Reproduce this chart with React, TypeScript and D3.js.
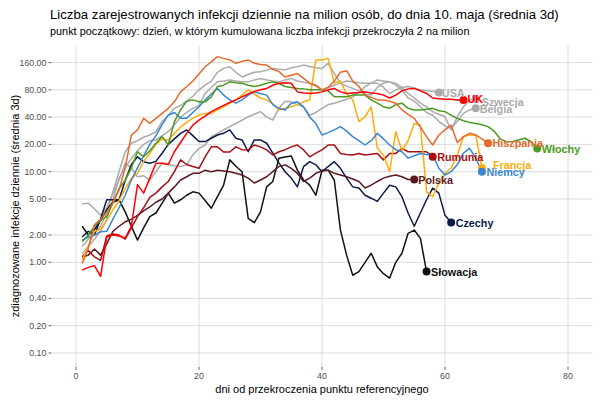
import React from 'react';
import * as d3 from 'd3';

const W = 600;
const H = 400;
const PANEL = { left: 51.4, right: 592.6, top: 45, bottom: 367 };

const xTicks = [0, 20, 40, 60, 80];
const yTicks = [0.1, 0.2, 0.4, 1, 2, 5, 10, 20, 40, 80, 160];
const yTickLabels = ['0.10', '0.20', '0.40', '1.00', '2.00', '5.00', '10.00', '20.00', '40.00', '80.00', '160.00'];

const titleText = 'Liczba zarejestrowanych infekcji dziennie na milion osób, do dnia 10. maja (średnia 3d)';
const subtitleText = 'punkt początkowy: dzień, w którym kumulowana liczba infekcji przekroczyła 2 na milion';
const xTitle = 'dni od przekroczenia punktu referencyjnego';
const yTitle = 'zdiagnozowane infekcje dziennie (średnia 3d)';

// values per day, starting at day 1
const usaValues = [1.25, 1.5, 1.8, 2.2, 3.0, 4.9, 8.5, 11, 14, 17, 20, 22, 22.4, 25, 27.6, 33, 40, 45, 50, 54, 73, 85, 98, 100, 103, 100, 98, 98, 103, 107, 103, 100, 98, 103, 107, 100, 97, 94.6, 88, 80, 85, 90, 95, 100, 98, 96, 94.6, 94.6, 94.6, 85, 73, 80, 85, 87, 84, 80, 78, 77, 75];
const belgiaValues = [1.5, 1.8, 2.1, 2.5, 3.5, 6, 10, 16.6, 20.6, 22, 24, 25.4, 27.6, 35.7, 42, 50, 54, 60, 68, 80, 90, 100, 125, 138, 144, 125, 111, 118, 125, 127, 132, 138, 135, 133, 140, 144, 150, 145, 140, 138, 157, 121, 95, 88, 83, 78, 72, 70, 85, 95, 98, 90, 80, 65, 60, 52, 45, 42, 36, 32, 30, 36, 44, 48, 50];
const szwecjaValues = [4.4, 4.5, 3.9, 3.3, 4.0, 5.8, 8.1, 12.4, 11, 8.8, 9, 8.1, 10, 12.4, 12, 11.6, 11.4, 11.9, 15.3, 18, 19.7, 24.4, 26.5, 29, 31.4, 34, 37, 40.4, 43, 46, 40, 37, 50, 60, 59, 55, 52, 42, 45, 50, 55, 57, 60, 63, 67, 75, 87, 95, 103, 100, 98, 94.6, 85, 73, 65, 57, 52, 46, 43, 40.4, 28.9, 40.4, 52, 62, 64];
const slowacjaValues = [2.5, 2.0, 2.3, 2.9, 3.8, 4.6, 4.9, 3.6, 2.5, 1.76, 2.4, 3.2, 3.5, 4.5, 5.8, 4.5, 4.9, 5.5, 6.0, 5.8, 4.8, 3.95, 5.3, 7.1, 13.5, 11.5, 10, 3.06, 2.74, 3.6, 6.8, 7.8, 14.1, 14.5, 14.9, 10.4, 8.1, 7.1, 5.5, 10.4, 10.4, 8.1, 2.27, 1.2, 0.72, 0.79, 1.0, 1.26, 0.89, 0.75, 0.67, 1.0, 1.26, 2.09, 2.27, 1.84, 0.79];
const czechyValues = [1.9, 2.2, 2.0, 3.0, 4.9, 4.9, 4.9, 8.0, 12, 14.6, 12.9, 12.4, 13, 16, 20, 23, 26.5, 28.9, 25, 21.5, 21.5, 23.4, 25.4, 26.5, 28.9, 23.4, 22.4, 16.6, 22.4, 22.4, 20.6, 16, 12.5, 10, 8.5, 6.8, 11.4, 12.9, 11.9, 10, 11.4, 12.9, 10.9, 8.5, 6.8, 6.6, 5.5, 5.1, 4.7, 5.8, 7.1, 6.8, 5.3, 3.5, 2.5, 3.5, 4.9, 6.6, 5.8, 3.3, 2.75];
const polskaValues = [1.15, 1.2, 1.4, 1.2, 1.6, 2.2, 2.5, 2.8, 3.0, 3.3, 3.7, 4.1, 4.6, 5.0, 5.8, 6.8, 8.1, 8.8, 9.6, 9.6, 10.4, 10, 10.4, 10.2, 10, 9.6, 9.2, 8.5, 7.5, 8.1, 8.8, 10, 11.4, 11.9, 10.9, 9.6, 7.8, 8.5, 9.6, 10.2, 10.4, 9.6, 9.2, 8.8, 8.3, 7.8, 6.6, 7.1, 7.8, 8.5, 8.9, 9.2, 8.8, 8.2, 8.2];
const rumuniaValues = [1.15, 1.35, 1.15, 1.05, 1.95, 2.05, 2.0, 1.8, 2.4, 3.2, 4.0, 5.2, 5.8, 6.8, 7.8, 10, 13.5, 12, 11.4, 10.9, 14.6, 18.8, 18.8, 16.5, 16.5, 18.8, 17.5, 17.4, 19.7, 18.8, 17.4, 15.3, 16.6, 17.5, 18.8, 19.7, 17.4, 14.6, 16, 17.4, 19.7, 19.7, 15.9, 15.5, 15.3, 15.9, 15.3, 15.6, 15.9, 13.5, 15.9, 15.9, 18.1, 16.6, 16.6, 16.6, 16.6, 14.6];
const niemcyValues = [1.76, 1.9, 2.0, 2.18, 2.2, 3.0, 4.0, 5.5, 8.1, 11, 15, 20, 25, 33, 42, 45, 39, 38.8, 45, 52, 62, 72, 83, 70, 62, 57, 62, 70, 76, 73, 70, 55, 50, 48, 57, 59, 52, 40, 34, 25.4, 27, 28.9, 31.4, 28, 24.4, 22, 19.7, 22, 26.5, 23, 19.7, 17.5, 16.6, 14.1, 15, 15.9, 15.5, 15.3, 10.9, 9.2, 10, 12, 16, 18.1, 14.1, 10];
const francjaValues = [1.06, 1.5, 2.2, 2.3, 2.9, 3.8, 4.8, 6.5, 8.4, 9.6, 13, 16, 20, 23, 22.4, 26.5, 31, 35, 39, 42, 44, 44, 48, 52, 57, 62, 70, 80, 72, 65, 62, 56, 48, 50, 52, 55, 59, 62, 171, 171, 178, 95, 100, 72, 62, 35.7, 40.4, 52, 18.1, 15.3, 10, 27.6, 17, 22, 34, 32.6, 6.0, 5.3, 7.5, 9.6, 11, 15.3, 24.4, 25.4, 25.4, 11];
const wlochyValues = [1.69, 2.0, 2.5, 2.9, 3.2, 4.5, 6.5, 8, 11, 16.6, 14.6, 17, 20.6, 24.4, 19.7, 35.7, 48, 60, 62, 59, 59, 67, 87, 90, 98, 96, 94.6, 90, 87, 90, 94.6, 98, 94, 87, 85, 83, 82, 80, 80, 80, 78, 67, 67, 67, 70, 70, 70, 62, 57, 52, 50, 55, 57, 50, 48, 48, 49, 50, 47, 46, 42, 38.8, 36.5, 35, 34, 33, 31.4, 28, 23, 21.4, 21.4, 22.5, 23.4, 21.4, 18];
const hiszpaniaValues = [0.97, 1.43, 2.6, 3.0, 3.6, 4.5, 6.3, 11, 25.4, 28.9, 38.8, 34.2, 38.8, 44, 50, 59, 76, 87, 100, 120, 144, 163, 186, 178, 171, 157, 165, 171, 157, 152, 150, 135, 127, 111, 116, 121, 107, 95, 90, 80, 85, 100, 125, 130, 100, 87, 70, 66, 62, 62, 60, 57, 48, 43, 38.8, 31, 24.4, 19.7, 25.4, 28.9, 32.6, 21, 24.4, 26.5, 25.4, 23, 20.6];
const ukValues = [0.82, 0.88, 0.92, 0.7, 1.9, 2.0, 1.95, 1.85, 2.5, 7.2, 5.8, 8.5, 12.4, 12.4, 12, 16.6, 21, 26.5, 32.6, 37, 41, 46, 50, 54, 58, 62, 67, 72, 77, 80, 83, 90, 94.6, 96, 94.6, 76, 74, 73, 74, 76, 80, 83, 76, 73, 74, 75, 76, 74, 73, 70, 65, 70, 78, 82, 83, 78, 73, 65, 64, 63, 63, 62, 62];

const countryNames = ['USA', 'Szwecja', 'Belgia', 'Słowacja', 'Czechy', 'Polska', 'Rumunia', 'Francja', 'Niemcy', 'Włochy', 'Hiszpania', 'UK'];
const countryValues = [usaValues, szwecjaValues, belgiaValues, slowacjaValues, czechyValues, polskaValues, rumuniaValues, francjaValues, niemcyValues, wlochyValues, hiszpaniaValues, ukValues];
const countryColors = ['#aaaaaa', '#aaaaaa', '#aaaaaa', '#111111', '#0d1a4a', '#5b1a20', '#a80f14', '#ffad0a', '#3a86d4', '#4b9a22', '#e8692b', '#ff0000'];
const firstDay = 1;

// label placement styles (offset from end point)
const labelOffset: Record<string, [number, number]> = {
  USA: [3, 4.5],
  Szwecja: [6, 7.5],
  Belgia: [4, 4.5],
  'Słowacja': [4.5, 4],
  Czechy: [4.5, 4],
  Polska: [4, 4],
  Rumunia: [4.5, 4],
  Niemcy: [4.5, 4],
  Francja: [11, 1.5],
  'Włochy': [4.5, 4],
  Hiszpania: [4.5, 4],
  UK: [4, 3.5],
};

const FONT = '"Liberation Sans", Arial, Helvetica, sans-serif';

export default function App() {
  const x = d3.scaleLinear().domain([-4, 84]).range([PANEL.left, PANEL.right]);
  const y = d3.scaleLog().domain([0.07, 250]).range([PANEL.bottom, PANEL.top]);

  const series = countryNames.map((name, i) => ({
    name,
    color: countryColors[i],
    points: countryValues[i].map((v, j) => [firstDay + j, v] as [number, number]),
  }));

  const line = d3
    .line<[number, number]>()
    .x((d) => x(d[0]))
    .y((d) => y(d[1]));

  return (
    <svg
      width={W}
      height={H}
      viewBox={`0 0 ${W} ${H}`}
      style={{ position: 'absolute', left: 0, top: 0, background: '#ffffff', fontFamily: FONT }}
    >
      <rect x={0} y={0} width={W} height={H} fill="#ffffff" />
      {/* grid */}
      {yTicks.map((t) => (
        <line key={'gy' + t} x1={PANEL.left} x2={PANEL.right} y1={y(t)} y2={y(t)} stroke="#dcdcdc" strokeWidth={1} />
      ))}
      {xTicks.map((t) => (
        <line key={'gx' + t} x1={x(t)} x2={x(t)} y1={PANEL.top} y2={PANEL.bottom} stroke="#dcdcdc" strokeWidth={1} />
      ))}
      {/* axis ticks */}
      {yTicks.map((t, i) => (
        <g key={'ty' + t}>
          <line x1={PANEL.left - 2.8} x2={PANEL.left} y1={y(t)} y2={y(t)} stroke="#333333" strokeWidth={0.8} />
          <text x={PANEL.left - 5} y={y(t)} dy="0.35em" textAnchor="end" fontSize={8.8} fill="#4d4d4d">
            {yTickLabels[i]}
          </text>
        </g>
      ))}
      {xTicks.map((t) => (
        <g key={'tx' + t}>
          <line x1={x(t)} x2={x(t)} y1={PANEL.bottom} y2={PANEL.bottom + 2.8} stroke="#333333" strokeWidth={0.8} />
          <text x={x(t)} y={PANEL.bottom + 11.5} textAnchor="middle" fontSize={8.8} fill="#4d4d4d">
            {t}
          </text>
        </g>
      ))}
      {/* lines */}
      {series.map((s) => (
        <path key={'l' + s.name} d={line(s.points) || ''} fill="none" stroke={s.color} strokeWidth={1.5} strokeLinejoin="round" />
      ))}
      {/* end points */}
      {series.map((s) => {
        const last = s.points[s.points.length - 1];
        return <circle key={'p' + s.name} cx={x(last[0])} cy={y(last[1])} r={4} fill={s.color} />;
      })}
      {/* end labels */}
      {series.map((s) => {
        const last = s.points[s.points.length - 1];
        const off = labelOffset[s.name] || [4, 4];
        return (
          <text key={'t' + s.name} x={x(last[0]) + off[0]} y={y(last[1]) + off[1]} fontSize={10.8} fontWeight="bold" fill={s.color}>
            {s.name}
          </text>
        );
      })}
      {/* titles */}
      <text x={50} y={18.5} fontSize={13.2} fill="#000000">
        {titleText}
      </text>
      <text x={50} y={34.5} fontSize={10.9} fill="#000000">
        {subtitleText}
      </text>
      <text x={(PANEL.left + PANEL.right) / 2} y={393} textAnchor="middle" fontSize={11} fill="#000000">
        {xTitle}
      </text>
      <text
        transform={`translate(19, ${(PANEL.top + PANEL.bottom) / 2}) rotate(-90)`}
        textAnchor="middle"
        fontSize={11}
        fill="#000000"
      >
        {yTitle}
      </text>
    </svg>
  );
}
